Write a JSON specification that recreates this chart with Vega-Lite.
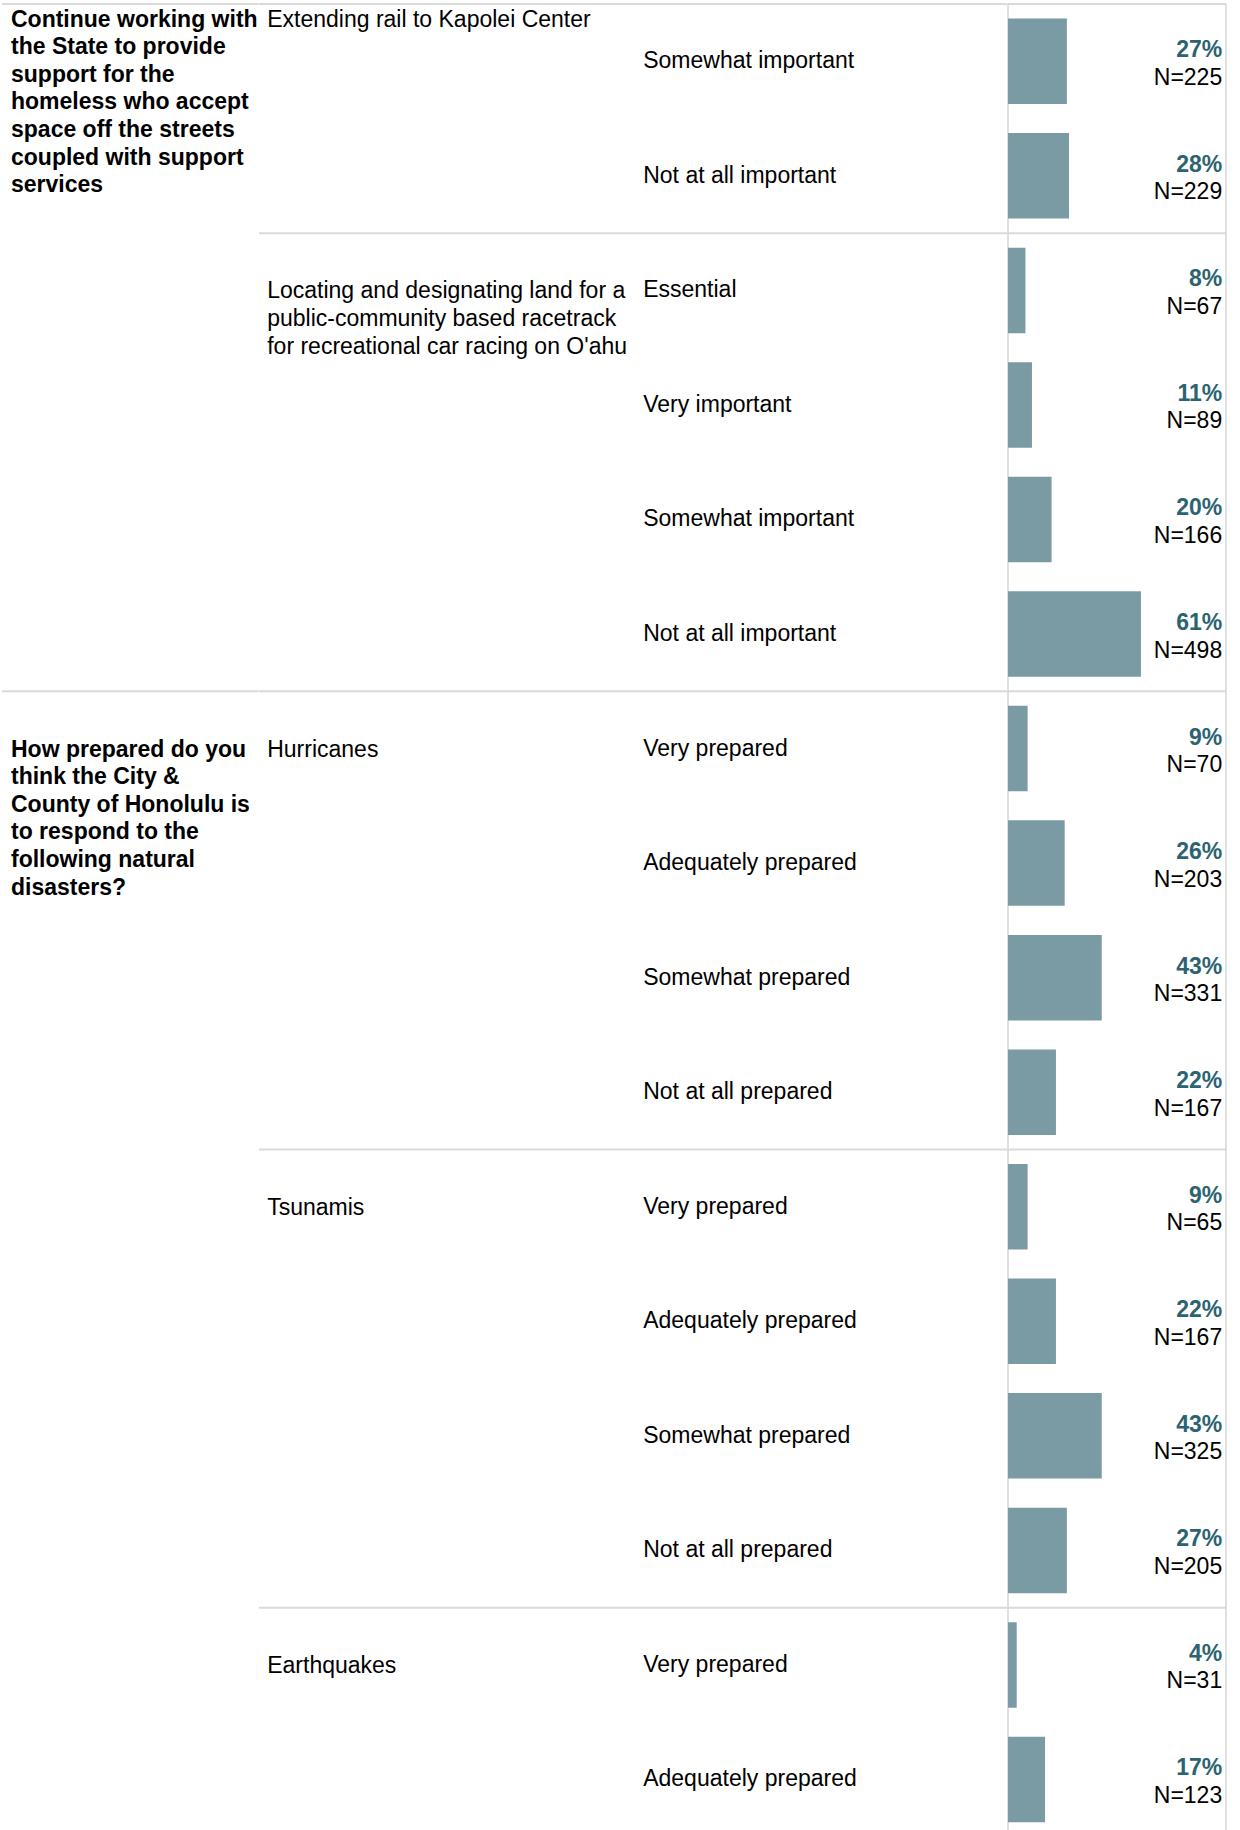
{
  "$schema": "https://vega.github.io/schema/vega-lite/v6.json",
  "padding": 0,
  "spacing": 0,
  "bounds": "flush",
  "background": "white",
  "config": {
    "view": {"stroke": null},
    "text": {"font": "Liberation Sans", "fontSize": 23, "color": "#000000"}
  },
  "datasets": {
    "questions": [
      {"row": 0, "cont": true, "question": "Continue working with\nthe State to provide\nsupport for the\nhomeless who accept\nspace off the streets\ncoupled with support\nservices"},
      {"row": 6, "cont": false, "question": "How prepared do you\nthink the City &\nCounty of Honolulu is\nto respond to the\nfollowing natural\ndisasters?"}
    ],
    "items": [
      {"row": 0, "cont": true, "item": "Extending rail to Kapolei Center"},
      {"row": 2, "cont": false, "item": "Locating and designating land for a\npublic-community based racetrack\nfor recreational car racing on O'ahu"},
      {"row": 6, "cont": false, "item": "Hurricanes"},
      {"row": 10, "cont": false, "item": "Tsunamis"},
      {"row": 14, "cont": false, "item": "Earthquakes"}
    ],
    "responses": [
      {"row": 0, "response": "Somewhat important", "pct": 0.27, "n": 225},
      {"row": 1, "response": "Not at all important", "pct": 0.28, "n": 229},
      {"row": 2, "response": "Essential", "pct": 0.08, "n": 67},
      {"row": 3, "response": "Very important", "pct": 0.11, "n": 89},
      {"row": 4, "response": "Somewhat important", "pct": 0.20, "n": 166},
      {"row": 5, "response": "Not at all important", "pct": 0.61, "n": 498},
      {"row": 6, "response": "Very prepared", "pct": 0.09, "n": 70},
      {"row": 7, "response": "Adequately prepared", "pct": 0.26, "n": 203},
      {"row": 8, "response": "Somewhat prepared", "pct": 0.43, "n": 331},
      {"row": 9, "response": "Not at all prepared", "pct": 0.22, "n": 167},
      {"row": 10, "response": "Very prepared", "pct": 0.09, "n": 65},
      {"row": 11, "response": "Adequately prepared", "pct": 0.22, "n": 167},
      {"row": 12, "response": "Somewhat prepared", "pct": 0.43, "n": 325},
      {"row": 13, "response": "Not at all prepared", "pct": 0.27, "n": 205},
      {"row": 14, "response": "Very prepared", "pct": 0.04, "n": 31},
      {"row": 15, "response": "Adequately prepared", "pct": 0.17, "n": 123}
    ],
    "frame": [{}]
  },
  "resolve": {"scale": {"y": "shared"}},
  "hconcat": [
    {
      "width": 258.4,
      "height": 1830,
      "data": {"name": "questions"},
      "layer": [
        {
          "mark": {"type": "rule", "color": "#dadada", "strokeWidth": 2, "yOffset": -14.5, "x": "width", "x2": 2},
          "encoding": {
            "y": {"field": "row", "type": "ordinal", "axis": null, "bandPosition": 0,
                  "scale": {"domain": [0,1,2,3,4,5,6,7,8,9,10,11,12,13,14,15], "paddingInner": 0.2536, "paddingOuter": 0.1148, "align": 0.705, "round": false}}
          }
        },
        {
          "transform": [{"filter": "!datum.cont"}],
          "mark": {"type": "text", "align": "left", "baseline": "top", "x": 0, "dx": 11, "dy": -10, "fontWeight": "bold", "lineBreak": "\n", "lineHeight": 27.6},
          "encoding": {
            "y": {"field": "row", "type": "ordinal", "axis": null},
            "text": {"field": "question"}
          }
        },
        {
          "transform": [{"filter": "datum.cont"}],
          "mark": {"type": "text", "align": "left", "baseline": "top", "x": 0, "dx": 11, "dy": -10, "fontWeight": "bold", "lineBreak": "\n", "lineHeight": 27.6},
          "encoding": {
            "y": {"field": "row", "type": "ordinal", "axis": null, "bandPosition": 0},
            "text": {"field": "question"}
          }
        }
      ]
    },
    {
      "width": 376,
      "height": 1830,
      "data": {"name": "items"},
      "layer": [
        {
          "mark": {"type": "rule", "color": "#dadada", "strokeWidth": 2, "yOffset": -14.5},
          "encoding": {
            "y": {"field": "row", "type": "ordinal", "axis": null, "bandPosition": 0}
          }
        },
        {
          "transform": [{"filter": "!datum.cont"}],
          "mark": {"type": "text", "align": "left", "baseline": "top", "x": 0, "dx": 8.2, "dy": -10, "lineBreak": "\n", "lineHeight": 27.6},
          "encoding": {
            "y": {"field": "row", "type": "ordinal", "axis": null},
            "text": {"field": "item"}
          }
        },
        {
          "transform": [{"filter": "datum.cont"}],
          "mark": {"type": "text", "align": "left", "baseline": "top", "x": 0, "dx": 8.2, "dy": -10, "lineBreak": "\n", "lineHeight": 27.6},
          "encoding": {
            "y": {"field": "row", "type": "ordinal", "axis": null, "bandPosition": 0},
            "text": {"field": "item"}
          }
        }
      ]
    },
    {
      "width": 372.4,
      "height": 1830,
      "layer": [
        {
          "data": {"name": "items"},
          "mark": {"type": "rule", "color": "#dadada", "strokeWidth": 2, "yOffset": -14.5},
          "encoding": {
            "y": {"field": "row", "type": "ordinal", "axis": null, "bandPosition": 0}
          }
        },
        {
          "data": {"name": "responses"},
          "mark": {"type": "text", "align": "left", "baseline": "middle", "x": 0, "dx": 8.2},
          "encoding": {
            "y": {"field": "row", "type": "ordinal", "axis": null},
            "text": {"field": "response"}
          }
        }
      ]
    },
    {
      "width": 218,
      "height": 1830,
      "layer": [
        {
          "data": {"name": "items"},
          "mark": {"type": "rule", "color": "#dadada", "strokeWidth": 2, "yOffset": -14.5},
          "encoding": {
            "y": {"field": "row", "type": "ordinal", "axis": null, "bandPosition": 0}
          }
        },
        {
          "data": {"name": "frame"},
          "mark": {"type": "rule", "color": "#d6d6d6", "strokeWidth": 1.5, "yOffset": -14.5},
          "encoding": {
            "x": {"datum": 0, "type": "quantitative", "axis": null, "scale": {"domain": [0, 1], "nice": false, "zero": true}},
            "y": {"datum": 0, "type": "ordinal", "axis": null, "bandPosition": 0},
            "y2": {"value": "height"}
          }
        },
        {
          "data": {"name": "frame"},
          "mark": {"type": "rule", "color": "#d6d6d6", "strokeWidth": 1.5, "yOffset": -14.5},
          "encoding": {
            "x": {"datum": 1, "type": "quantitative", "axis": null},
            "y": {"datum": 0, "type": "ordinal", "axis": null, "bandPosition": 0},
            "y2": {"value": "height"}
          }
        },
        {
          "data": {"name": "responses"},
          "mark": {"type": "bar", "color": "#7b9ba4"},
          "encoding": {
            "x": {"field": "pct", "type": "quantitative", "axis": null},
            "y": {"field": "row", "type": "ordinal", "axis": null}
          }
        },
        {
          "data": {"name": "responses"},
          "mark": {"type": "text", "align": "right", "baseline": "middle", "x": "width", "dx": -3.8, "dy": -11, "fontWeight": "bold", "color": "#2b6370"},
          "encoding": {
            "y": {"field": "row", "type": "ordinal", "axis": null},
            "text": {"field": "pct", "type": "quantitative", "format": ".0%"}
          }
        },
        {
          "data": {"name": "responses"},
          "mark": {"type": "text", "align": "right", "baseline": "middle", "x": "width", "dx": -3.8, "dy": 16.5, "text": {"expr": "'N=' + datum.n"}},
          "encoding": {
            "y": {"field": "row", "type": "ordinal", "axis": null}
          }
        }
      ]
    }
  ]
}
